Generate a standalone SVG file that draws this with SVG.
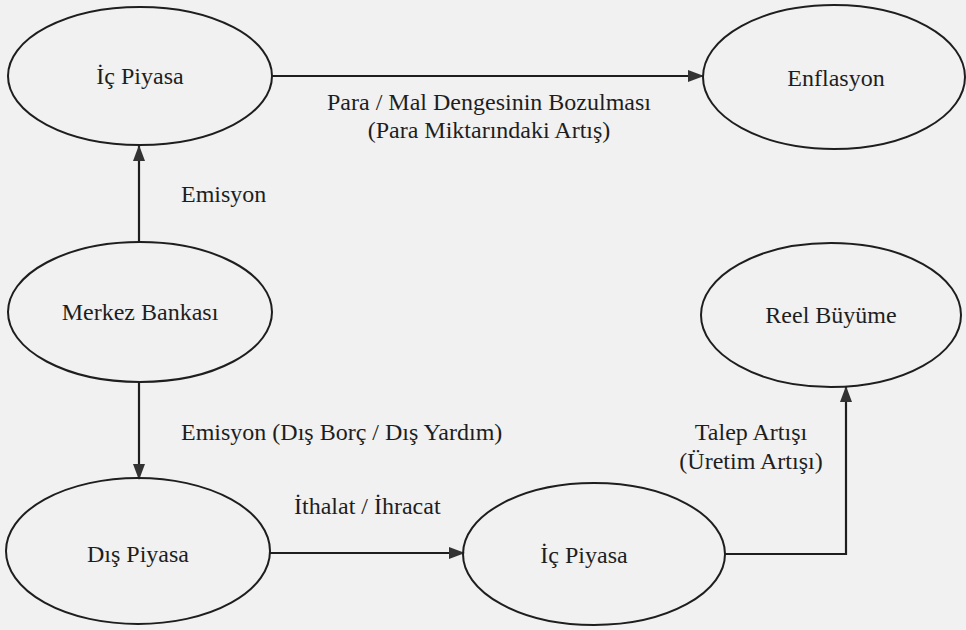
<svg xmlns="http://www.w3.org/2000/svg" width="966" height="630" viewBox="0 0 966 630">
<defs>
<marker id="ah" markerWidth="16" markerHeight="12" refX="15" refY="6" orient="auto" markerUnits="userSpaceOnUse">
<path d="M0,0 L16,6 L0,12 Z" fill="#333"/>
</marker>
</defs>
<rect width="966" height="630" fill="#f1f1f1"/>
<g id="connectors" fill="none" stroke="#1e1e1e" stroke-width="2.2">
<line x1="272" y1="76" x2="703" y2="76" marker-end="url(#ah)"/>
<line x1="139" y1="242" x2="139" y2="146" marker-end="url(#ah)"/>
<line x1="139" y1="383" x2="139" y2="479" marker-end="url(#ah)"/>
<line x1="270" y1="553" x2="464" y2="553" marker-end="url(#ah)"/>
<path d="M725,554 L846,554 L846,387" marker-end="url(#ah)"/>
</g>
<g id="labels" fill="#1e1e1e">
<text font-family="Times New Roman" font-size="24" x="489" y="110" text-anchor="middle">Para / Mal Dengesinin Bozulması</text>
<text font-family="Times New Roman" font-size="24" x="489" y="138" text-anchor="middle">(Para Miktarındaki Artış)</text>
<text font-family="Times New Roman" font-size="24" x="181" y="202">Emisyon</text>
<text font-family="Times New Roman" font-size="24" x="181" y="440">Emisyon (Dış Borç / Dış Yardım)</text>
<text font-family="Times New Roman" font-size="24" x="294" y="514">İthalat / İhracat</text>
<text font-family="Times New Roman" font-size="24" x="751" y="440" text-anchor="middle">Talep Artışı</text>
<text font-family="Times New Roman" font-size="24" x="751" y="469" text-anchor="middle">(Üretim Artışı)</text>
</g>
<g id="nodes" fill="#1e1e1e">
<g id="ic-piyasa-1"><ellipse cx="140" cy="76" rx="132" ry="69" fill="none" stroke="#1e1e1e" stroke-width="2"/><text font-family="Times New Roman" font-size="24" x="140" y="84" text-anchor="middle">İç Piyasa</text></g>
<g id="enflasyon"><ellipse cx="834" cy="77" rx="131" ry="72" fill="none" stroke="#1e1e1e" stroke-width="2"/><text font-family="Times New Roman" font-size="24" x="836" y="86" text-anchor="middle">Enflasyon</text></g>
<g id="merkez-bankasi"><ellipse cx="140" cy="312" rx="132" ry="70" fill="none" stroke="#1e1e1e" stroke-width="2"/><text font-family="Times New Roman" font-size="24" x="140" y="320" text-anchor="middle">Merkez Bankası</text></g>
<g id="reel-buyume"><ellipse cx="831" cy="315" rx="130" ry="72" fill="none" stroke="#1e1e1e" stroke-width="2"/><text font-family="Times New Roman" font-size="24" x="831" y="323" text-anchor="middle">Reel Büyüme</text></g>
<g id="dis-piyasa"><ellipse cx="138" cy="551" rx="132" ry="73" fill="none" stroke="#1e1e1e" stroke-width="2"/><text font-family="Times New Roman" font-size="24" x="138" y="562" text-anchor="middle">Dış Piyasa</text></g>
<g id="ic-piyasa-2"><ellipse cx="594" cy="554" rx="131" ry="71" fill="none" stroke="#1e1e1e" stroke-width="2"/><text font-family="Times New Roman" font-size="24" x="584" y="563" text-anchor="middle">İç Piyasa</text></g>
</g>
</svg>
